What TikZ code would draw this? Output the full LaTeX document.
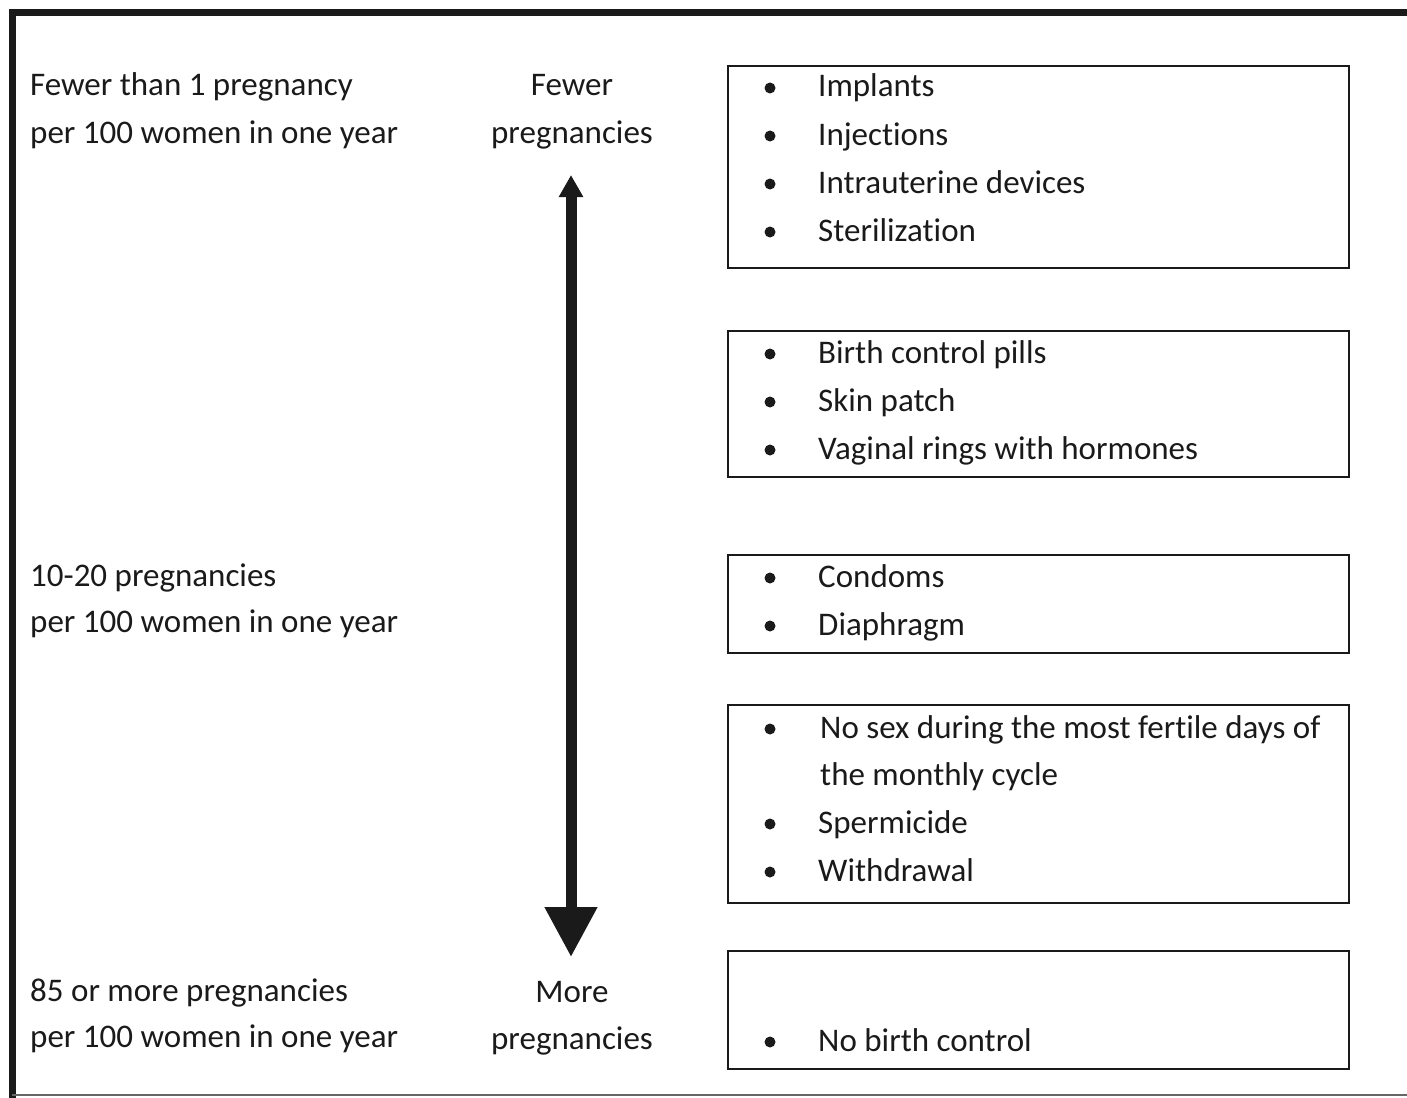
\documentclass[tikz,border=0pt]{standalone}
\usepackage{fontspec}
\setmainfont{Carlito}[RawFeature={-liga;-clig}]
\usetikzlibrary{arrows.meta}
\definecolor{ink}{HTML}{1A1A1A}
\begin{document}
\begin{tikzpicture}[x=1pt,y=-1pt,
  txt/.style={anchor=base west,inner sep=0pt,text=ink,font=\fontsize{33}{40}\selectfont},
  ctxt/.style={anchor=base,inner sep=0pt,text=ink,font=\fontsize{33}{40}\selectfont},
  mbox/.style={draw=ink,line width=2.2pt,anchor=north west,inner sep=0pt,minimum width=621pt},
  bul/.style={circle,fill=ink,inner sep=0pt,minimum size=11pt}]
\useasboundingbox (0,0) rectangle (1407,1097);
% outer frame
\draw[line width=7pt,ink] (12,1105) -- (12,13) -- (1415,13);
\draw[line width=1.4pt,black!60] (12,1095) -- (1407,1095);

% left labels
\node[txt] (l1a) at (30,96) {Fewer than 1 pregnancy};
\node[txt] (l1b) at (30,143) {per 100 women in one year};
\node[txt] (l2a) at (30,586) {10-20 pregnancies};
\node[txt] (l2b) at (30,632) {per 100 women in one year};
\node[txt] (l3a) at (30,1001) {85 or more pregnancies};
\node[txt] (l3b) at (30,1047) {per 100 women in one year};

% middle labels
\node[ctxt] (m1a) at (572,96) {Fewer};
\node[ctxt] (m1b) at (572,143) {pregnancies};
\node[ctxt] (m2a) at (572,1002) {More};
\node[ctxt] (m2b) at (572,1049) {pregnancies};

% arrow
\coordinate (atop) at (571,175);
\coordinate (abot) at (571,957);
\draw[line width=11pt,ink,{Triangle[width=23pt,length=22pt]}-{Triangle[width=50pt,length=50pt]}] (atop) -- (abot);

% boxes
\node[mbox,minimum height=202pt] (b1) at (727,65) {};
\node[mbox,minimum height=146pt] (b2) at (727,330) {};
\node[mbox,minimum height=98pt] (b3) at (727,554) {};
\node[mbox,minimum height=198pt] (b4) at (727,704) {};
\node[mbox,minimum height=118pt] (b5) at (727,950) {};

% box 1
\node[bul] (d11) at (770,88) {}; \node[txt] (t11) at (818,97) {Implants};
\node[bul] (d12) at (770,136) {}; \node[txt] (t12) at (818,145) {Injections};
\node[bul] (d13) at (770,184) {}; \node[txt] (t13) at (818,193) {Intrauterine devices};
\node[bul] (d14) at (770,232) {}; \node[txt] (t14) at (818,241) {Sterilization};
% box 2
\node[bul] (d21) at (770,354) {}; \node[txt] (t21) at (818,363) {Birth control pills};
\node[bul] (d22) at (770,402) {}; \node[txt] (t22) at (818,411) {Skin patch};
\node[bul] (d23) at (770,450) {}; \node[txt] (t23) at (818,459) {Vaginal rings with hormones};
% box 3
\node[bul] (d31) at (770,578) {}; \node[txt] (t31) at (818,587) {Condoms};
\node[bul] (d32) at (770,626) {}; \node[txt] (t32) at (818,635) {Diaphragm};
% box 4
\node[bul] (d41) at (770,729) {}; \node[txt] (t41) at (820,738) {No sex during the most fertile days of};
\node[txt] (t41b) at (820,785) {the monthly cycle};
\node[bul] (d42) at (770,824) {}; \node[txt] (t42) at (818,833) {Spermicide};
\node[bul] (d43) at (770,872) {}; \node[txt] (t43) at (818,881) {Withdrawal};
% box 5
\node[bul] (d51) at (770,1042) {}; \node[txt] (t51) at (818,1051) {No birth control};
\end{tikzpicture}
\end{document}
